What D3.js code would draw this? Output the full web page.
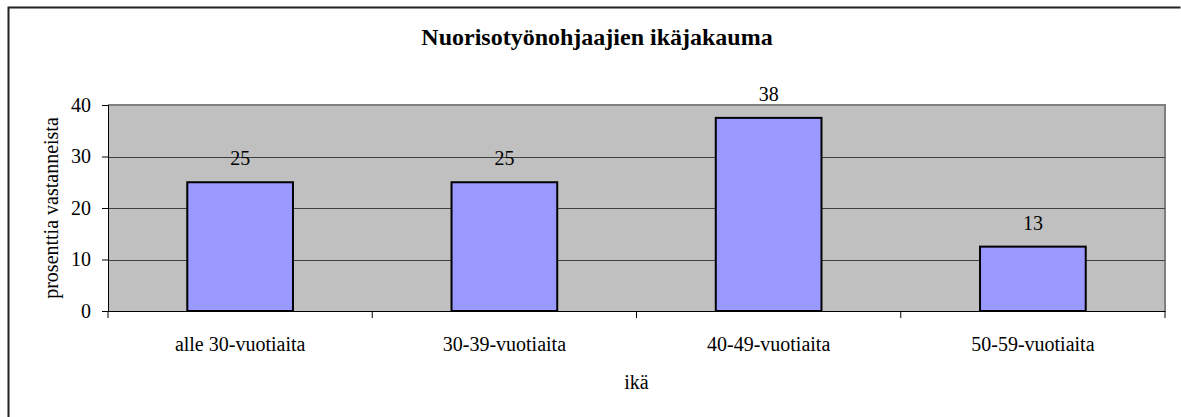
<!DOCTYPE html>
<html>
<head>
<meta charset="utf-8">
<script src="https://cdn.jsdelivr.net/npm/d3@7"></script>
<style>
  body { margin: 0; background: #fff; }
</style>
</head>
<body>
<div id="chart"></div>
<script>
'use strict';

const categories = ['alle 30-vuotiaita', '30-39-vuotiaita', '40-49-vuotiaita', '50-59-vuotiaita'];
const values = [25, 25, 37.5, 12.5];
const labels = ['25', '25', '38', '13'];
const yTicks = [0, 10, 20, 30, 40];

const width = 1181, height = 417;
const plot = { left: 108, top: 105, right: 1165, bottom: 311 };
const serif = "'Liberation Serif', 'Times New Roman', Tinos, 'DejaVu Serif', serif";

const svg = d3.select('#chart').append('svg')
    .attr('width', width)
    .attr('height', height)
    .attr('font-family', serif);

// outer chart frame (bottom runs off the picture)
svg.append('path')
    .attr('d', `M8.5,${height + 2}V7.5H1180.5`)
    .attr('fill', 'none')
    .attr('stroke', '#222')
    .attr('stroke-width', 2);

const x = d3.scaleBand().domain(categories).range([plot.left, plot.right]).paddingInner(0).paddingOuter(0);
const y = d3.scaleLinear().domain([0, 40]).range([plot.bottom, plot.top]);

// plot background
svg.append('rect')
    .attr('x', plot.left).attr('y', plot.top)
    .attr('width', plot.right - plot.left).attr('height', plot.bottom - plot.top)
    .attr('fill', '#c0c0c0');

svg.append('path')
    .attr('d', `M${plot.left},${plot.top}H${plot.right}V${plot.bottom}`)
    .attr('fill', 'none')
    .attr('stroke', '#808080')
    .attr('stroke-width', 2);

// gridlines
svg.append('g').selectAll('line')
    .data(yTicks.filter(d => d > 0 && d < 40))
    .join('line')
    .attr('x1', plot.left).attr('x2', plot.right)
    .attr('y1', d => Math.round(y(d)) + 0.5).attr('y2', d => Math.round(y(d)) + 0.5)
    .attr('stroke', '#404040');

// bars
const barW = x.bandwidth() * 0.4;
svg.append('g').selectAll('rect')
    .data(values)
    .join('rect')
    .attr('x', (d, i) => x(categories[i]) + (x.bandwidth() - barW) / 2)
    .attr('y', d => y(d))
    .attr('width', barW)
    .attr('height', d => y(0) - y(d))
    .attr('fill', '#9999ff')
    .attr('stroke', '#000')
    .attr('stroke-width', 2);

// value labels
svg.append('g').selectAll('text')
    .data(values)
    .join('text')
    .attr('x', (d, i) => x(categories[i]) + x.bandwidth() / 2)
    .attr('y', d => y(d) - 17)
    .attr('text-anchor', 'middle')
    .attr('font-size', 20)
    .text((d, i) => labels[i]);

// y axis
const yAxis = svg.append('g')
    .attr('transform', `translate(${plot.left},0)`)
    .call(d3.axisLeft(y).tickValues(yTicks).tickSize(6).tickPadding(11));
yAxis.attr('font-family', serif).attr('font-size', 20);

// x axis
const xAxis = svg.append('g')
    .attr('transform', `translate(0,${plot.bottom})`)
    .call(d3.axisBottom(x).tickSize(0).tickPadding(26));
xAxis.attr('font-family', serif).attr('font-size', 20);
xAxis.selectAll('.tick line').remove();
xAxis.append('g').selectAll('line')
    .data(d3.range(categories.length + 1))
    .join('line')
    .attr('x1', i => plot.left + i * x.bandwidth())
    .attr('x2', i => plot.left + i * x.bandwidth())
    .attr('y1', 0).attr('y2', 7)
    .attr('stroke', '#000');
svg.selectAll('.domain').attr('stroke', '#000');
svg.selectAll('.tick text').attr('fill', '#000');

// titles
svg.append('text')
    .attr('x', 597).attr('y', 45)
    .attr('text-anchor', 'middle')
    .attr('font-size', 24).attr('font-weight', 'bold')
    .text('Nuorisotyönohjaajien ikäjakauma');

svg.append('text')
    .attr('x', (plot.left + plot.right) / 2).attr('y', 389)
    .attr('text-anchor', 'middle')
    .attr('font-size', 20)
    .text('ikä');

svg.append('text')
    .attr('transform', `translate(58,${(plot.top + plot.bottom) / 2}) rotate(-90)`)
    .attr('text-anchor', 'middle')
    .attr('font-size', 20)
    .text('prosenttia vastanneista');
</script>
</body>
</html>
